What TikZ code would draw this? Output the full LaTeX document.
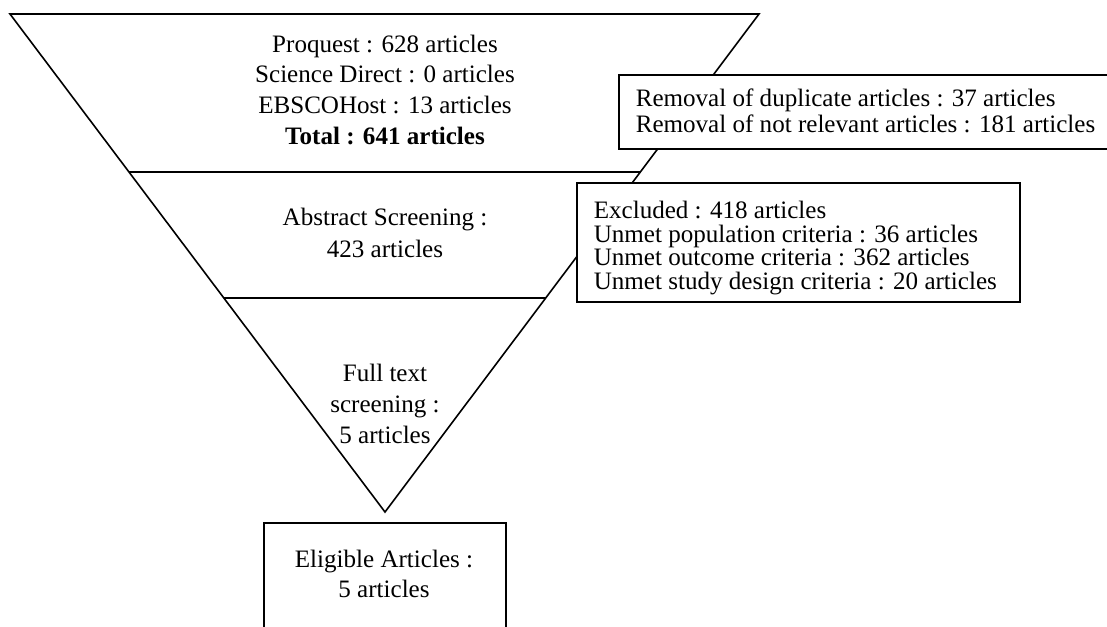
\documentclass[tikz,border=0pt]{standalone}
\usepackage{fontspec}
\setmainfont{Liberation Serif}
\usetikzlibrary{calc}
\begin{document}
\begin{tikzpicture}[x=0.75pt,y=-0.75pt,line width=1.2pt,
  txt/.style={inner sep=0pt,anchor=base,align=center},
  ltxt/.style={inner sep=0pt,anchor=base west,align=left},
  fbox/.style={draw=black,fill=white,line width=1.2pt}]
\useasboundingbox (0,0) rectangle (1107,626);
% funnel corners
\coordinate (tl) at (10,14);
\coordinate (tr) at (759,14);
\coordinate (ap) at (385,512);
\draw[line join=miter] (tl) -- (tr) -- (ap) -- cycle;
\coordinate (l1) at ($(tl)!158/498!(ap)$);
\coordinate (r1) at ($(tr)!158/498!(ap)$);
\coordinate (l2) at ($(tl)!284/498!(ap)$);
\coordinate (r2) at ($(tr)!284/498!(ap)$);
\draw (l1) -- (r1);
\draw (l2) -- (r2);
% funnel texts (anchored at the baseline of the last line)
\node[txt,font=\fontsize{18.8}{22.9}\selectfont] (sources) at (385,144)
  {Proquest : 628 articles\\Science Direct : 0 articles\\EBSCOHost : 13 articles\\\textbf{Total : 641 articles}};
\node[txt,font=\fontsize{18.8}{23.3}\selectfont] (abstract) at (385,257)
  {Abstract Screening :\\423 articles};
\node[txt,font=\fontsize{18.8}{22.9}\selectfont] (fulltext) at (385,443)
  {Full text\\screening :\\5 articles};
% side boxes
\node[fbox,minimum width=497*0.75pt,minimum height=74*0.75pt,anchor=north west,inner sep=0pt] (removal) at (618,74) {};
\node[ltxt,font=\fontsize{18.8}{19.5}\selectfont] (removaltxt) at (635,132)
  {Removal of duplicate articles : 37 articles\\Removal of not relevant articles : 181 articles};
\node[fbox,minimum width=443*0.75pt,minimum height=119*0.75pt,anchor=north west,inner sep=0pt] (excluded) at (576,182) {};
\node[ltxt,font=\fontsize{18.8}{17.6}\selectfont] (excludedtxt) at (593,289)
  {Excluded : 418 articles\\Unmet population criteria : 36 articles\\Unmet outcome criteria : 362 articles\\Unmet study design criteria : 20 articles};
% eligible box
\node[fbox,minimum width=242*0.75pt,minimum height=130*0.75pt,anchor=north west,inner sep=0pt] (eligible) at (263,522) {};
\node[txt,font=\fontsize{18.8}{22.1}\selectfont] (eligibletxt) at (384,597)
  {Eligible Articles :\\5 articles};
\end{tikzpicture}
\end{document}
